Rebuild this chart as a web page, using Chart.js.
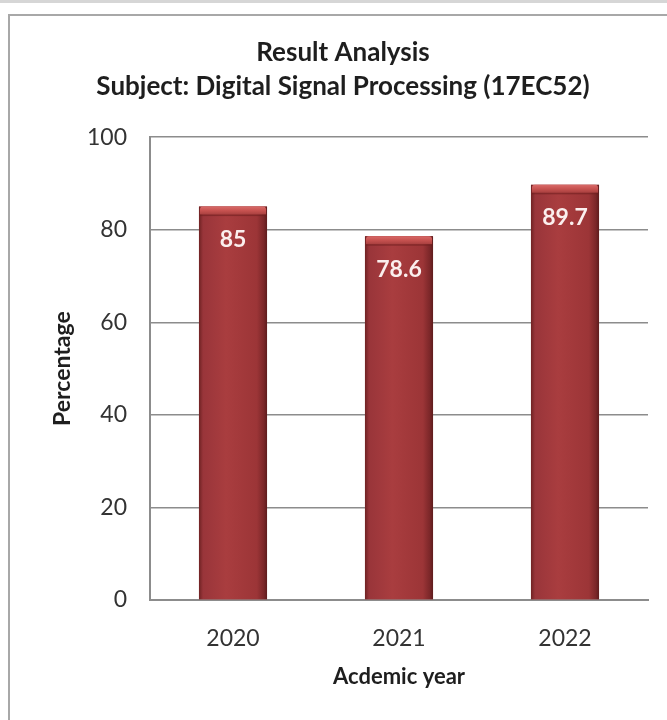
<!DOCTYPE html>
<html lang="en">
<head>
    <meta charset="UTF-8">
    <title>Result Analysis - Digital Signal Processing (17EC52)</title>
    <script src="https://cdn.jsdelivr.net/npm/chart.js"></script>
    <style>
        html, body {
            margin: 0;
            padding: 0;
            background: #ffffff;
            overflow: hidden;
            width: 667px;
            height: 720px;
        }
        .page-rule {
            position: absolute;
            left: 0;
            top: 0;
            width: 667px;
            height: 3px;
            background: #d6d6d6;
        }
        .chart-frame {
            position: absolute;
            left: 8px;
            top: 14px;
            width: 700px;
            height: 720px;
            border: 2px solid #a8a8a8;
        }
        .chart-box {
            position: absolute;
            left: 10px;
            top: 16px;
            width: 666px;
            height: 704px;
        }
    </style>
</head>
<body>
    <div class="page-rule"></div>
    <div class="chart-frame"></div>
    <div class="chart-box">
        <canvas id="resultChart"></canvas>
    </div>

    <script>
        const years = ['2020', '2021', '2022'];
        const passPercent = [85, 78.6, 89.7];
        const yTicks = [0, 20, 40, 60, 80, 100];
        const titleLines = ['Result Analysis', 'Subject: Digital Signal Processing (17EC52)'];

        const FONT = 'Lato, "Open Sans", sans-serif';

        // shades the plain bars so they look like rounded columns with a light cap,
        // then writes the value inside the top of each bar
        const columnLook = {
            id: 'columnLook',
            afterDatasetsDraw(chart) {
                const ctx = chart.ctx;
                const meta = chart.getDatasetMeta(0);
                meta.data.forEach((bar, i) => {
                    const left = bar.x - bar.width / 2;
                    const right = bar.x + bar.width / 2;
                    const top = bar.y;
                    const bottom = bar.base;

                    ctx.save();
                    const body = ctx.createLinearGradient(left, 0, right, 0);
                    body.addColorStop(0, '#6f2223');
                    body.addColorStop(0.06, '#99353a');
                    body.addColorStop(0.4, '#a93d3f');
                    body.addColorStop(0.85, '#9c3537');
                    body.addColorStop(0.95, '#7c2729');
                    body.addColorStop(1, '#5e1c1d');
                    ctx.fillStyle = body;
                    ctx.fillRect(left, top, right - left, bottom - top);

                    // light cap on top
                    const capH = 8;
                    const cap = ctx.createLinearGradient(0, top, 0, top + capH);
                    cap.addColorStop(0, '#d86a68');
                    cap.addColorStop(0.5, '#c75250');
                    cap.addColorStop(1, '#a8403f');
                    ctx.fillStyle = cap;
                    ctx.beginPath();
                    ctx.moveTo(left + 1, top + capH);
                    ctx.lineTo(left + 1, top + 3);
                    ctx.quadraticCurveTo(left + 1, top, left + 4, top);
                    ctx.lineTo(right - 4, top);
                    ctx.quadraticCurveTo(right - 1, top, right - 1, top + 3);
                    ctx.lineTo(right - 1, top + capH);
                    ctx.closePath();
                    ctx.fill();
                    ctx.fillStyle = 'rgba(110, 30, 30, 0.55)';
                    ctx.fillRect(left + 1, top + capH, right - left - 2, 1.5);

                    // value label
                    ctx.fillStyle = '#fbefee';
                    ctx.font = 'bold 23px ' + FONT;
                    ctx.textAlign = 'center';
                    ctx.textBaseline = 'middle';
                    ctx.fillText(String(passPercent[i]), bar.x, top + 33);
                    ctx.restore();
                });
            }
        };

        new Chart(document.getElementById('resultChart'), {
            type: 'bar',
            data: {
                labels: years,
                datasets: [{
                    label: 'Percentage',
                    data: passPercent,
                    backgroundColor: '#a13a3b',
                    borderWidth: 0,
                    barPercentage: 0.41,
                    categoryPercentage: 1
                }]
            },
            options: {
                responsive: true,
                maintainAspectRatio: false,
                animation: false,
                layout: {
                    padding: { left: 28, right: 28, top: 0, bottom: 0 }
                },
                plugins: {
                    legend: { display: false },
                    tooltip: { enabled: false },
                    title: {
                        display: true,
                        text: titleLines,
                        color: '#1e1e1e',
                        font: { family: FONT, size: 26, weight: 'bold', lineHeight: 1.33 },
                        padding: { top: 19, bottom: 33 }
                    }
                },
                scales: {
                    x: {
                        grid: { display: false, drawTicks: false },
                        border: { display: true, color: '#8c8c8c', width: 2 },
                        ticks: {
                            color: '#333333',
                            padding: 25,
                            font: { family: FONT, size: 23 }
                        },
                        title: {
                            display: true,
                            text: 'Acdemic year',
                            color: '#1e1e1e',
                            font: { family: FONT, size: 22, weight: 'bold' },
                            padding: { top: 0, bottom: 30 }
                        },
                        afterFit(scale) {
                            scale.height = 120;
                        }
                    },
                    y: {
                        min: 0,
                        max: 100,
                        afterBuildTicks(scale) {
                            scale.ticks = yTicks.map(v => ({ value: v }));
                        },
                        grid: { color: '#8c8c8c', lineWidth: 1.5, drawTicks: false },
                        border: { display: true, color: '#8c8c8c', width: 2 },
                        ticks: {
                            color: '#333333',
                            padding: 23,
                            font: { family: FONT, size: 23 }
                        },
                        title: {
                            display: true,
                            text: 'Percentage',
                            color: '#1e1e1e',
                            font: { family: FONT, size: 23, weight: 'bold' },
                            padding: { top: 11, bottom: 0 }
                        },
                        afterFit(scale) {
                            scale.width = 112;
                        }
                    }
                }
            },
            plugins: [columnLook]
        });
    </script>
</body>
</html>
